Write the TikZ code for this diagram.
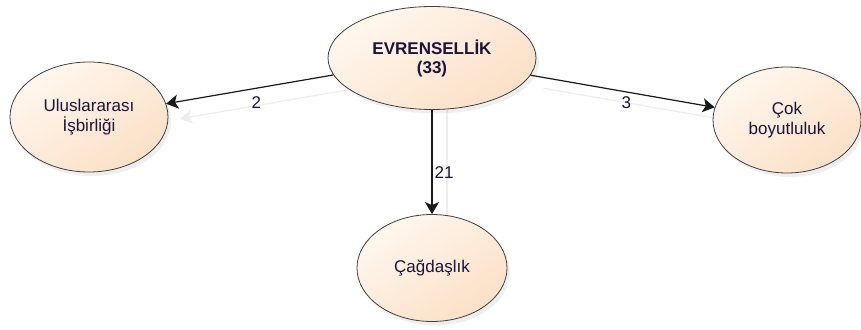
\documentclass[tikz,border=0pt]{standalone}
\usepackage{fontspec}
\setmainfont{Liberation Sans}
\usetikzlibrary{arrows.meta,shadows,shapes.geometric}
\pgfdeclarelayer{background}
\pgfsetlayers{background,main}
\definecolor{peachL}{RGB}{255,247,238}
\definecolor{peachD}{RGB}{251,224,198}
\definecolor{inkNavy}{RGB}{28,20,58}
\definecolor{ghostGray}{RGB}{237,237,240}
\tikzset{
  topic/.style={ellipse, draw=black!75, line width=0.8pt, inner sep=0pt,
    shading=axis, top color=peachL, bottom color=peachD, shading angle=35,
    drop shadow={opacity=0.12, shadow xshift=3pt, shadow yshift=-4pt},
    font=\fontsize{17}{20}\selectfont, text=inkNavy, align=center},
  link/.style={draw=black!90, line width=1.2pt,
    -{Stealth[length=12pt, width=14pt, inset=3pt]}},
  ghost/.style={draw=ghostGray, line width=1.2pt},
  ghosthead/.style={ghost, -{Stealth[length=12pt, width=14pt, inset=3pt]}},
  count/.style={font=\fontsize{17}{20}\selectfont, text=inkNavy, inner sep=1pt},
}
\begin{document}
\begin{tikzpicture}[x=1pt, y=-1pt]
  \useasboundingbox (0,0) rectangle (861,329);

  % concept nodes
  \node[topic, minimum width=208pt, minimum height=103pt] (evr) at (432,58)
    {\textbf{EVRENSELLİK}\\[-1pt]\textbf{(33)}};
  \node[topic, minimum width=158pt, minimum height=110pt] (ulus) at (89,117)
    {Uluslararası\\İşbirliği};
  \node[topic, minimum width=148pt, minimum height=106pt] (cok) at (787,120)
    {Çok\\boyutluluk};
  \node[topic, minimum width=150pt, minimum height=107pt] (cag) at (432,268)
    {Çağdaşlık};

  % white page and a faint echo of the connectors behind the nodes
  \begin{pgfonlayer}{background}
    \fill[white] (0,0) rectangle (861,329);
    \draw[ghosthead, transform canvas={shift={(14pt,-15pt)}}] (evr) -- (ulus);
    \draw[ghost, transform canvas={shift={(13pt,-13pt)}}] (evr) -- (cok);
    \draw[ghost, transform canvas={shift={(15pt,0pt)}}] (evr) -- (cag);
  \end{pgfonlayer}

  % weighted connectors
  \draw[link] (evr) -- node[count, pos=0.46, below=7pt] {2} (ulus);
  \draw[link] (evr) -- node[count, pos=0.52, below=3pt] {3} (cok);
  \draw[link] (evr) -- node[count, pos=0.6, right=1pt] {21} (cag);
\end{tikzpicture}
\end{document}
